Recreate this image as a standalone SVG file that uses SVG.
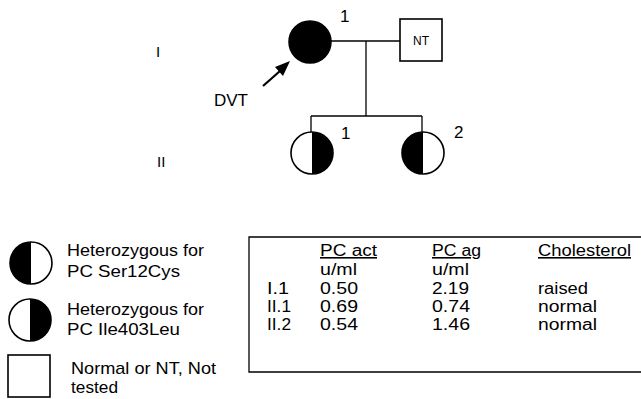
<svg xmlns="http://www.w3.org/2000/svg" width="641" height="399" viewBox="0 0 641 399">
<style>
text{font-family:"Liberation Sans",Arial,sans-serif;fill:#000}
.t{font-size:17px}
.tb{font-size:16px}
.sym{fill:#fff;stroke:#000;stroke-width:1.6}
.ln{stroke:#000;stroke-width:1.3;fill:none}
.u{text-decoration:underline}
</style>
<rect width="641" height="399" fill="#fff"/>
<g id="generation-labels">
<text x="156" y="57" font-size="15">I</text>
<text x="157" y="167" font-size="15">II</text>
</g>
<g id="connectors">
<line class="ln" x1="331" y1="41" x2="400" y2="41"/>
<line class="ln" x1="366" y1="41" x2="366" y2="116"/>
<line class="ln" x1="311" y1="116" x2="422" y2="116"/>
<line class="ln" x1="311" y1="116" x2="311" y2="132"/>
<line class="ln" x1="422" y1="116" x2="422" y2="132"/>
<line stroke="#000" stroke-width="2.2" x1="263" y1="86" x2="280" y2="71"/>
<polygon points="290,61 283,76 275,67" fill="#000"/>
</g>
<g id="I1">
<circle cx="310" cy="42" r="21" fill="#000" stroke="#000" stroke-width="1.5"/>
<text x="340" y="22" font-size="17">1</text>
</g>
<g id="I2">
<rect class="sym" x="400" y="19" width="42" height="42"/>
<text x="421" y="45" font-size="12" text-anchor="middle">NT</text>
</g>
<g id="dvt">
<text x="214" y="106" font-size="17" textLength="34" lengthAdjust="spacingAndGlyphs">DVT</text>
</g>
<g id="II1">
<circle class="sym" cx="312" cy="153" r="21"/>
<path d="M312,132 A21,21 0 0 1 312,174 Z" fill="#000"/>
<text x="341" y="139" font-size="17">1</text>
</g>
<g id="II2">
<circle class="sym" cx="423" cy="153" r="21"/>
<path d="M423,132 A21,21 0 0 0 423,174 Z" fill="#000"/>
<text x="454" y="138" font-size="17">2</text>
</g>
<g id="legend">
<circle class="sym" cx="31" cy="263" r="21"/>
<path d="M31,242 A21,21 0 0 0 31,284 Z" fill="#000"/>
<text class="t" x="67" y="256" textLength="137" lengthAdjust="spacingAndGlyphs">Heterozygous for</text>
<text class="t" x="67" y="277" textLength="113" lengthAdjust="spacingAndGlyphs">PC Ser12Cys</text>
<circle class="sym" cx="30" cy="320" r="21"/>
<path d="M30,299 A21,21 0 0 1 30,341 Z" fill="#000"/>
<text class="t" x="67" y="315" textLength="137" lengthAdjust="spacingAndGlyphs">Heterozygous for</text>
<text class="t" x="67" y="335" textLength="113" lengthAdjust="spacingAndGlyphs">PC Ile403Leu</text>
<rect class="sym" x="8" y="355" width="42" height="42"/>
<text class="t" x="71" y="374" textLength="145" lengthAdjust="spacingAndGlyphs">Normal or NT, Not</text>
<text class="t" x="71" y="393" textLength="47" lengthAdjust="spacingAndGlyphs">tested</text>
</g>
<g id="table">
<path d="M645,237 H249 V372 H645" fill="none" stroke="#000" stroke-width="1.3"/>
<text class="tb u" x="320" y="256" textLength="57" lengthAdjust="spacingAndGlyphs">PC act</text>
<text class="tb u" x="432" y="256" textLength="49" lengthAdjust="spacingAndGlyphs">PC ag</text>
<text class="tb u" x="538" y="256" textLength="93" lengthAdjust="spacingAndGlyphs">Cholesterol</text>
<text class="tb" x="320" y="275" textLength="37" lengthAdjust="spacingAndGlyphs">u/ml</text>
<text class="tb" x="432" y="275" textLength="37" lengthAdjust="spacingAndGlyphs">u/ml</text>
<text class="tb" x="267" y="294" textLength="22" lengthAdjust="spacingAndGlyphs">I.1</text>
<text class="tb" x="320" y="294" textLength="38" lengthAdjust="spacingAndGlyphs">0.50</text>
<text class="tb" x="432" y="294" textLength="37" lengthAdjust="spacingAndGlyphs">2.19</text>
<text class="tb" x="538" y="294" textLength="50" lengthAdjust="spacingAndGlyphs">raised</text>
<text class="tb" x="267" y="312" textLength="24" lengthAdjust="spacingAndGlyphs">II.1</text>
<text class="tb" x="320" y="312" textLength="38" lengthAdjust="spacingAndGlyphs">0.69</text>
<text class="tb" x="432" y="312" textLength="38" lengthAdjust="spacingAndGlyphs">0.74</text>
<text class="tb" x="538" y="312" textLength="59" lengthAdjust="spacingAndGlyphs">normal</text>
<text class="tb" x="267" y="330" textLength="24" lengthAdjust="spacingAndGlyphs">II.2</text>
<text class="tb" x="320" y="330" textLength="38" lengthAdjust="spacingAndGlyphs">0.54</text>
<text class="tb" x="432" y="330" textLength="38" lengthAdjust="spacingAndGlyphs">1.46</text>
<text class="tb" x="538" y="330" textLength="59" lengthAdjust="spacingAndGlyphs">normal</text>
</g>
</svg>
